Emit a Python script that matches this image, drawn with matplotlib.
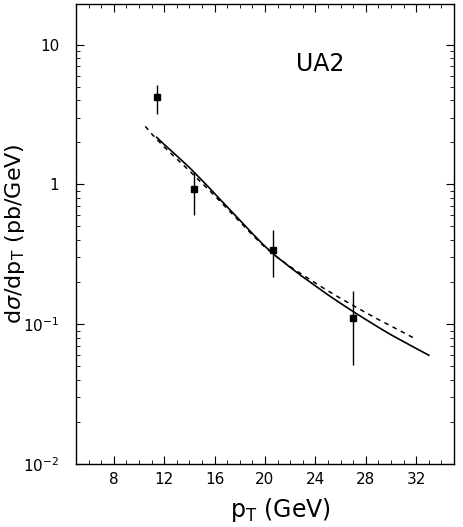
import math
import matplotlib
matplotlib.use('Agg')
import matplotlib.pyplot as plt
from matplotlib.ticker import FixedLocator, LogLocator, MultipleLocator, FuncFormatter, NullFormatter

# UA2 data points
pt = [11.4, 14.4, 20.6, 27.0]
xsec = [4.2, 0.93, 0.34, 0.11]
err_lo = [3.2, 0.60, 0.217, 0.051]
err_hi = [5.1, 1.22, 0.47, 0.172]

# theory curves
solid_pt = [11.4, 12.0, 13.0, 14.0, 15.0, 16.0, 17.0, 18.0, 19.0, 20.0, 21.0, 22.0,
            23.0, 24.0, 25.0, 26.0, 27.0, 28.0, 29.0, 30.0, 31.0, 32.0, 33.0]
solid_val = [2.17, 1.93, 1.60, 1.32, 1.07, 0.86, 0.69, 0.555, 0.445, 0.36, 0.30, 0.255,
             0.218, 0.188, 0.162, 0.141, 0.123, 0.108, 0.095, 0.084, 0.075, 0.067, 0.060]
dash_pt = [10.5, 11.0, 12.0, 13.0, 14.0, 15.0, 16.0, 17.0, 18.0, 19.0, 20.0, 21.0,
           22.0, 23.0, 24.0, 25.0, 26.0, 27.0, 28.0, 29.0, 30.0, 31.0, 32.0]
dash_val = [2.6, 2.3, 1.85, 1.52, 1.25, 1.02, 0.83, 0.67, 0.54, 0.435, 0.355, 0.30, 0.258,
            0.225, 0.197, 0.173, 0.153, 0.136, 0.121, 0.108, 0.097, 0.087, 0.078]

xticks = [8, 12, 16, 20, 24, 28, 32]

fig = plt.figure(figsize=(4.63, 5.27), dpi=100)
ax = fig.add_axes([76/463, 1 - 464/527, 378/463, 460/527])

ax.plot(solid_pt, solid_val, color='black', lw=1.2)
ax.plot(dash_pt, dash_val, color='black', lw=1.1, ls=(0, (3, 3)))

yerr = [[v - lo for v, lo in zip(xsec, err_lo)], [hi - v for v, hi in zip(xsec, err_hi)]]
ax.errorbar(pt, xsec, yerr=yerr, fmt='s', color='black', ms=5, elinewidth=1, capsize=0)

ax.set_yscale('log')
ax.set_xlim(5, 35)
ax.set_ylim(0.01, 19.5)

ax.xaxis.set_major_locator(FixedLocator(xticks))
ax.xaxis.set_minor_locator(MultipleLocator(1))
ax.yaxis.set_major_locator(LogLocator(base=10))
ax.yaxis.set_minor_locator(LogLocator(base=10, subs=range(2, 10)))
ax.yaxis.set_minor_formatter(NullFormatter())


def ylab(v, pos):
    if abs(v - 10) < 1e-9:
        return '10'
    if abs(v - 1) < 1e-9:
        return '1'
    return r'$10^{%d}$' % int(round(math.log10(v)))


ax.yaxis.set_major_formatter(FuncFormatter(ylab))

ax.tick_params(which='both', direction='in', top=True, right=True, labelsize=11, pad=6)
ax.tick_params(axis='y', pad=12)
ax.tick_params(which='major', length=6, width=0.8)
ax.tick_params(which='minor', length=3, width=0.6)
for s in ax.spines.values():
    s.set_linewidth(1.0)

ax.set_xlabel(r'p$_{\mathrm{T}}$ (GeV)', fontsize=17)
ax.xaxis.set_label_coords(0.54, -0.07)
ax.set_ylabel(r'd$\sigma$/dp$_{\mathrm{T}}$ (pb/GeV)', fontsize=16)
ax.yaxis.set_label_coords(-0.13, 0.5)

ax.text(22.5, 7.3, 'UA2', fontsize=17, ha='left', va='center')

fig.savefig('out.png', dpi=100)
